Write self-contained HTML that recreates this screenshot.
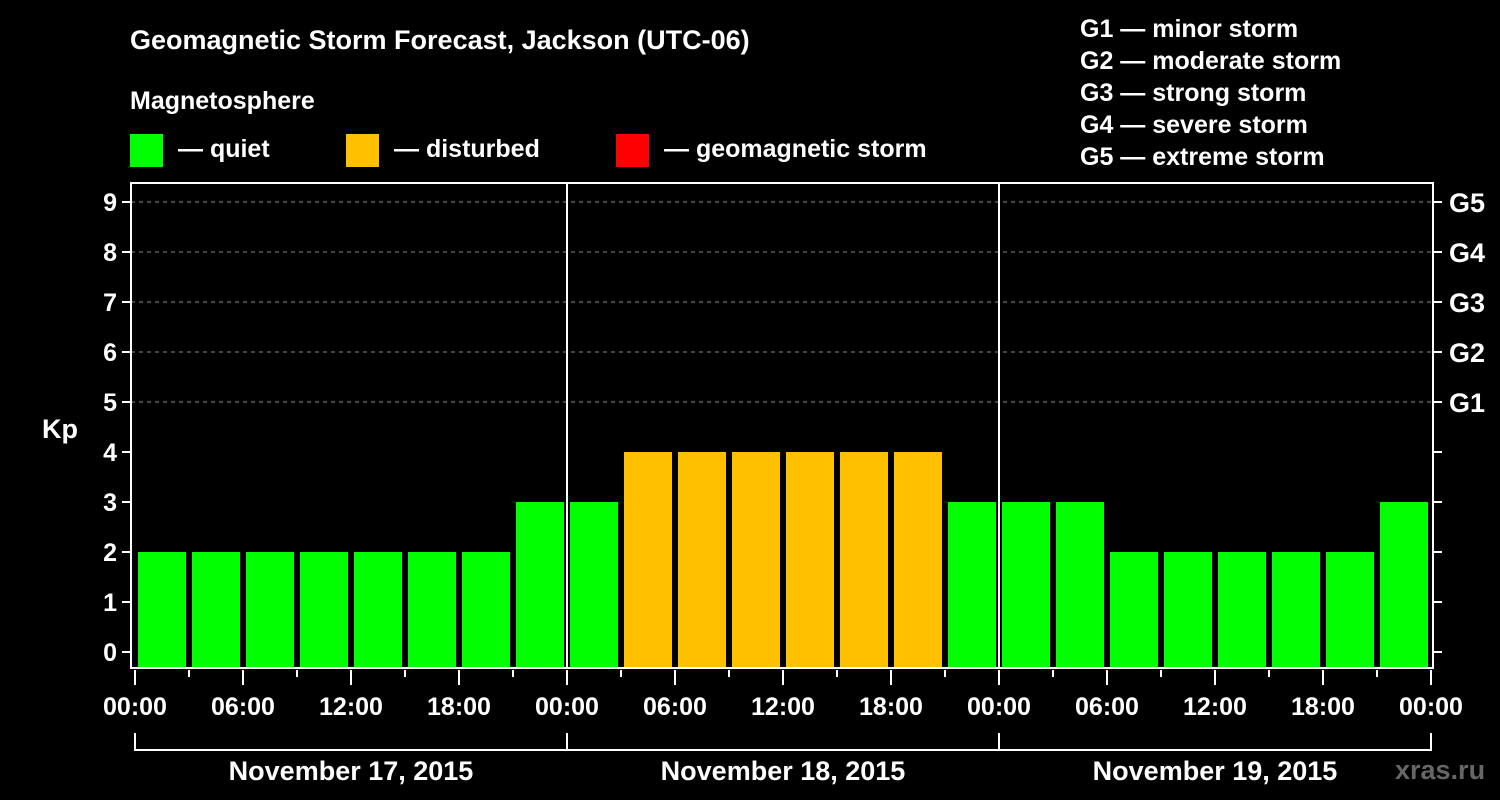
<!DOCTYPE html>
<html><head><meta charset="utf-8"><style>
body{margin:0;background:#000;width:1500px;height:800px;overflow:hidden}
svg{display:block;font-family:"Liberation Sans",Arial,sans-serif;font-weight:bold}
</style></head><body>
<svg id="c" width="1500" height="800" xmlns="http://www.w3.org/2000/svg">
<rect width="1500" height="800" fill="#000"/>
<text x="130" y="49" fill="#fff" font-size="27">Geomagnetic Storm Forecast, Jackson (UTC-06)</text>
<text x="130" y="109" fill="#fff" font-size="25">Magnetosphere</text>
<g><rect x="130" y="134" width="33" height="33" fill="#00ff00"/><text x="178" y="157" fill="#fff" font-size="25">— quiet</text></g>
<g><rect x="346" y="134" width="33" height="33" fill="#ffc000"/><text x="394" y="157" fill="#fff" font-size="25">— disturbed</text></g>
<g><rect x="616" y="134" width="33" height="33" fill="#ff0000"/><text x="664" y="157" fill="#fff" font-size="25">— geomagnetic storm</text></g>
<g fill="#fff" font-size="25">
<text x="1080" y="37">G1 — minor storm</text><text x="1080" y="69">G2 — moderate storm</text><text x="1080" y="101">G3 — strong storm</text><text x="1080" y="133">G4 — severe storm</text><text x="1080" y="165">G5 — extreme storm</text></g>
<text x="42" y="438" fill="#fff" font-size="27">Kp</text>
<text x="1395" y="779" fill="#666" font-size="27">xras.ru</text>
<g id="grid"></g><g id="bars"></g><g id="axes"></g>
</svg>
<script>
const kpValues=[2,2,2,2,2,2,2,3, 3,4,4,4,4,4,4,3, 3,3,2,2,2,2,2,3];
const dayLabels=["November 17, 2015","November 18, 2015","November 19, 2015"];
const hourLabels=["00:00","06:00","12:00","18:00"];
const gLabels=["G1","G2","G3","G4","G5"];
const NS="http://www.w3.org/2000/svg";
const L=131,R=1433,T=183,B=668;
const x0=135,dayW=432;
const xs=h=>x0+h*dayW/24;
const ys=v=>652-v*50;
function mk(t,a,p){const e=document.createElementNS(NS,t);for(const k in a)e.setAttribute(k,a[k]);p.appendChild(e);return e;}
const grid=document.getElementById('grid'),bars=document.getElementById('bars'),axes=document.getElementById('axes');
for(let v=5;v<=9;v++){const l=mk('line',{x1:L,x2:R,y1:ys(v),y2:ys(v),stroke:'#888','stroke-dasharray':'4,4','stroke-width':1},grid);

}
kpValues.forEach((v,i)=>{const col=v>=5?'#ff0000':(v>=4?'#ffc000':'#00ff00');
const r=mk('rect',{x:xs(i*3)+3,y:ys(v),width:dayW/8-6,height:B-ys(v),fill:col},bars);

});
const fr=mk('rect',{x:L,y:T,width:R-L,height:B-T,fill:'none',stroke:'#fff','stroke-width':2},axes);


for(let d=1;d<3;d++){const l=mk('line',{x1:xs(d*24),x2:xs(d*24),y1:T,y2:B,stroke:'#fff','stroke-width':2},axes);

}
for(let v=0;v<=9;v++){mk('line',{x1:L-9,x2:L,y1:ys(v),y2:ys(v),stroke:'#fff','stroke-width':2},axes);
mk('line',{x1:R,x2:R+9,y1:ys(v),y2:ys(v),stroke:'#fff','stroke-width':2},axes);
const t=mk('text',{x:L-14,y:ys(v)+9,fill:'#fff','font-size':25,'text-anchor':'end'},axes);t.textContent=v;

}
gLabels.forEach((g,i)=>{const t=mk('text',{x:1449,y:ys(i+5)+10,fill:'#fff','font-size':27},axes);t.textContent=g;

});
for(let h=0;h<=72;h+=3){const major=h%6===0;mk('line',{x1:xs(h),x2:xs(h),y1:B+2,y2:major?B+17:B+9,stroke:'#fff','stroke-width':2},axes);
if(major){const t=mk('text',{x:xs(h),y:715,fill:'#fff','font-size':25,'text-anchor':'middle'},axes);t.textContent=hourLabels[(h/6)%4];

}}
dayLabels.forEach((d,i)=>{const a=xs(i*24),b=xs(i*24+24);
mk('path',{d:`M${a} 733V750H${b}`+(i===2?`V733`:''),stroke:'#fff','stroke-width':2,fill:'none'},axes);
const t=mk('text',{x:(a+b)/2,y:780,fill:'#fff','font-size':27,'text-anchor':'middle'},axes);t.textContent=d;

});
</script>
</body></html>
